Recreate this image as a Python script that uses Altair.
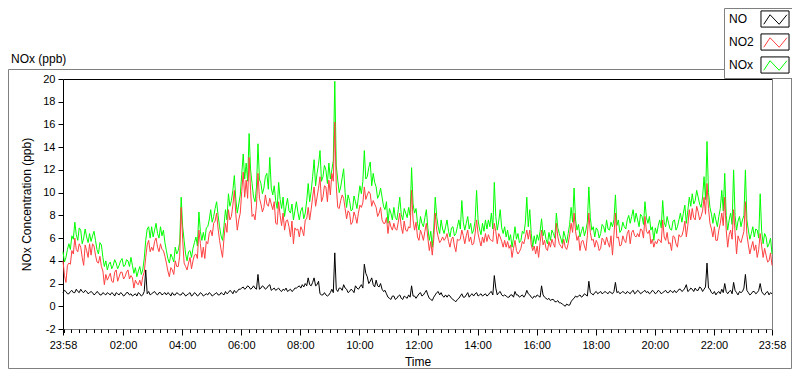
import altair as alt
import pandas as pd

FONT = "Liberation Sans"
STEP_MIN = 6  # readings every 6 minutes from 23:58, plus readings 3 minutes after each

SERIES = ["NO", "NO2", "NOx"]
COLORS = ["#000000", "#ff4040", "#00ff00"]
DRAW_ORDER = ["NOx", "NO2", "NO"]

NOX = [
    4.8, 4.3, 5.5, 6.2, 7.4, 5.8, 6.7, 6.0, 6.1, 6.4,
    6.2, 5.8, 4.6, 5.4, 3.5, 3.2, 3.9, 3.6, 3.8, 3.6,
    4.2, 3.6, 4.0, 4.3, 2.9, 2.6, 3.5, 3.2, 5.8, 7.0,
    7.0, 6.7, 6.4, 7.0, 6.7, 4.9, 3.8, 4.3, 5.2, 4.9,
    9.6, 5.8, 4.0, 4.9, 5.1, 6.1, 8.3, 5.8, 5.8, 7.0,
    8.5, 7.9, 9.2, 7.0, 5.8, 8.5, 9.9, 9.3, 11.5, 8.2,
    9.8, 13.4, 12.6, 15.2, 10.8, 9.2, 14.3, 10.8, 10.4, 11.7,
    13.1, 9.8, 9.3, 10.9, 8.6, 7.9, 9.5, 8.2, 7.6, 9.2,
    7.6, 8.7, 8.2, 10.8, 10.1, 12.9, 11.7, 13.7, 11.4, 12.0,
    12.6, 12.0, 19.8, 11.1, 10.5, 12.1, 8.7, 9.3, 8.5, 9.2,
    9.6, 9.9, 13.7, 11.4, 12.7, 11.7, 10.5, 9.8, 9.6, 8.5,
    7.3, 8.2, 8.7, 7.6, 9.6, 7.6, 8.2, 8.7, 12.2, 8.2,
    7.3, 7.9, 7.0, 8.5, 5.8, 5.2, 9.6, 7.0, 7.6, 6.4,
    7.6, 6.1, 7.0, 6.4, 7.6, 9.3, 6.7, 7.9, 7.3, 6.7,
    10.2, 6.8, 7.3, 7.6, 7.6, 8.2, 10.9, 6.7, 8.5, 6.4,
    6.1, 5.8, 5.2, 7.0, 6.4, 5.8, 6.4, 9.6, 8.5, 5.2,
    5.5, 5.8, 7.7, 6.7, 5.5, 5.8, 6.4, 8.2, 6.4, 5.5,
    6.1, 6.4, 8.7, 10.4, 6.7, 6.1, 7.0, 6.7, 10.5, 6.7,
    6.1, 6.7, 6.4, 7.0, 7.6, 6.7, 7.0, 9.8, 7.6, 6.7,
    7.0, 7.6, 7.3, 8.5, 8.2, 7.0, 7.9, 9.2, 7.3, 6.7,
    5.8, 6.4, 7.6, 9.3, 7.0, 7.3, 6.7, 7.6, 7.0, 8.2,
    8.2, 7.3, 9.6, 9.9, 9.3, 9.6, 8.7, 11.4, 14.5, 8.7,
    7.3, 7.6, 7.9, 10.2, 11.7, 6.7, 8.2, 12.0, 6.7, 7.9,
    7.6, 12.0, 6.7, 6.4, 6.1, 6.7, 9.9, 5.5, 6.1, 5.5, 4.6,
]
NOX_MID = [
    3.9, 5.0, 5.0, 5.9, 6.3, 6.9, 5.5, 6.8, 5.6, 5.7,
    6.6, 5.0, 5.6, 4.3, 4.0, 3.7, 3.3, 4.1, 3.3, 4.0,
    3.5, 4.1, 3.5, 3.6, 3.4, 3.1, 2.8, 4.2, 6.8, 6.0,
    6.1, 7.3, 6.0, 6.2, 5.6, 4.2, 4.6, 3.9, 4.6, 5.6,
    7.0, 4.6, 4.8, 4.3, 5.6, 5.3, 6.6, 6.5, 6.9, 7.6,
    7.4, 8.6, 8.0, 6.2, 7.1, 7.6, 8.8, 10.2, 9.4, 9.0,
    11.6, 11.2, 11.0, 12.0, 9.6, 10.5, 11.2, 9.9, 11.4, 10.3,
    10.4, 10.6, 8.6, 9.4, 9.6, 8.8, 8.4, 9.0, 8.4, 8.3,
    8.4, 7.7, 9.3, 9.2, 11.4, 10.6, 12.5, 11.0, 12.4, 10.8,
    11.2, 12.8, 12.4, 10.0, 11.3, 10.0, 9.8, 8.4, 9.7, 8.6,
    10.6, 11.0, 11.2, 12.2, 10.6, 10.9, 9.5, 10.4, 8.8, 9.2,
    8.6, 7.6, 7.8, 8.5, 8.1, 8.6, 7.8, 8.0, 9.0, 8.6,
    6.7, 7.3, 7.8, 6.9, 6.6, 6.8, 7.9, 6.4, 6.8, 7.0,
    6.6, 6.9, 6.2, 7.0, 6.8, 7.4, 7.3, 6.8, 6.4, 7.5,
    7.6, 6.3, 6.6, 6.8, 7.0, 6.8, 7.9, 7.5, 6.9, 7.0,
    6.7, 6.3, 6.0, 5.9, 5.6, 6.6, 7.3, 7.0, 6.4, 6.2,
    6.3, 6.6, 6.2, 5.9, 6.5, 6.7, 6.0, 6.9, 6.0, 6.6,
    5.6, 7.2, 7.4, 7.6, 7.2, 6.6, 6.2, 7.4, 7.8, 7.0,
    6.9, 6.0, 7.2, 6.5, 6.8, 7.4, 7.6, 7.1, 6.5, 7.4,
    6.8, 8.0, 7.9, 7.4, 7.6, 8.1, 7.2, 7.8, 7.9, 7.0,
    6.9, 7.1, 6.9, 7.4, 7.9, 6.8, 7.5, 6.7, 7.6, 7.4,
    8.9, 8.4, 8.8, 9.0, 10.2, 9.0, 9.6, 9.4, 10.0, 8.1,
    8.2, 7.0, 8.6, 8.4, 8.0, 7.6, 7.2, 8.0, 7.5, 7.0,
    8.0, 7.6, 5.9, 7.0, 6.8, 6.0, 6.6, 6.4, 5.2, 6.0,
]

NO2 = [
    4.0, 2.1, 3.8, 4.9, 6.0, 4.8, 5.2, 3.6, 4.9, 5.5,
    5.5, 4.5, 3.8, 3.5, 1.9, 2.3, 2.9, 2.1, 3.2, 2.6,
    3.0, 2.6, 3.2, 2.7, 1.6, 2.0, 2.3, 2.6, 4.3, 5.8,
    5.2, 5.7, 5.2, 5.5, 4.9, 3.8, 2.6, 3.2, 4.0, 3.5,
    8.7, 3.8, 3.2, 4.3, 4.0, 4.6, 6.7, 4.3, 4.2, 5.5,
    6.7, 7.3, 8.2, 5.8, 4.3, 7.3, 8.5, 7.9, 10.2, 6.7,
    8.2, 11.8, 11.1, 13.1, 7.9, 7.6, 11.7, 9.0, 8.7, 9.0,
    9.5, 8.5, 7.3, 9.2, 7.1, 6.7, 7.6, 6.1, 5.5, 6.7,
    6.1, 6.7, 7.6, 8.7, 8.5, 10.5, 9.6, 11.4, 9.6, 10.5,
    11.1, 11.7, 16.2, 8.7, 9.3, 9.5, 7.7, 8.2, 7.4, 7.9,
    8.2, 8.7, 10.5, 9.8, 9.9, 9.3, 8.7, 8.2, 7.6, 7.3,
    6.4, 7.0, 7.3, 6.7, 8.2, 6.4, 6.7, 7.0, 10.2, 6.7,
    6.1, 6.7, 5.8, 7.3, 4.9, 4.5, 8.2, 6.1, 5.8, 5.8,
    6.4, 5.2, 6.1, 4.8, 5.8, 6.7, 5.5, 6.7, 6.1, 5.5,
    7.6, 5.8, 6.1, 6.4, 6.3, 5.8, 7.3, 5.5, 6.1, 5.2,
    5.2, 5.1, 4.3, 5.8, 4.6, 5.1, 5.5, 6.7, 6.7, 4.9,
    4.6, 4.3, 6.7, 5.8, 4.9, 5.2, 5.5, 7.3, 5.5, 5.1,
    5.2, 5.5, 7.3, 8.2, 5.8, 4.9, 5.8, 4.9, 8.2, 5.8,
    5.2, 5.5, 5.1, 5.8, 6.1, 5.2, 4.5, 8.2, 6.1, 5.4,
    5.8, 6.4, 5.5, 6.7, 6.1, 6.1, 6.7, 7.9, 6.4, 5.5,
    5.2, 5.5, 5.8, 7.6, 5.8, 5.5, 4.9, 6.1, 5.2, 6.1,
    6.7, 6.1, 8.5, 8.6, 7.6, 8.3, 7.9, 9.6, 10.8, 7.3,
    6.1, 5.8, 6.7, 8.2, 9.6, 5.2, 6.7, 8.5, 4.6, 5.8,
    6.1, 9.2, 5.4, 5.2, 4.9, 4.3, 6.4, 4.3, 4.5, 4.0, 3.6,
]
NO2_MID = [
    2.7, 3.6, 3.7, 4.6, 5.0, 5.5, 4.3, 5.4, 4.3, 4.5,
    5.3, 3.9, 4.4, 3.1, 2.8, 2.6, 2.2, 3.0, 2.2, 3.0,
    2.4, 3.0, 2.4, 2.5, 2.3, 1.9, 1.8, 3.0, 5.4, 4.8,
    4.9, 6.0, 4.8, 5.0, 4.4, 3.1, 3.4, 2.8, 3.5, 4.4,
    5.9, 3.5, 3.8, 3.3, 4.5, 4.2, 5.5, 5.2, 5.7, 6.4,
    6.2, 7.5, 6.8, 5.0, 6.0, 6.5, 7.6, 8.9, 8.1, 7.6,
    10.1, 9.6, 9.5, 10.2, 8.1, 8.9, 9.5, 8.3, 9.8, 8.8,
    9.0, 9.2, 7.2, 8.0, 8.2, 7.5, 7.0, 7.5, 6.9, 6.8,
    7.0, 6.2, 7.7, 7.6, 9.6, 8.8, 10.4, 9.2, 10.6, 9.2,
    9.8, 11.0, 10.6, 8.6, 9.8, 8.6, 8.4, 7.2, 8.3, 7.3,
    8.9, 9.1, 9.4, 10.1, 8.8, 9.0, 7.9, 8.7, 7.3, 7.8,
    7.5, 6.7, 6.8, 7.4, 7.0, 7.5, 6.6, 6.9, 7.6, 7.4,
    5.8, 6.3, 6.6, 6.0, 5.7, 5.9, 6.7, 5.6, 6.1, 6.0,
    5.7, 5.9, 5.3, 5.9, 5.9, 6.2, 6.2, 5.7, 5.4, 6.4,
    6.4, 5.3, 5.6, 5.7, 5.9, 5.7, 6.6, 6.4, 5.7, 5.8,
    5.7, 5.4, 5.1, 4.9, 4.8, 5.7, 6.1, 5.9, 5.4, 5.3,
    5.3, 5.6, 5.4, 5.1, 5.7, 5.9, 5.2, 6.1, 5.3, 5.9,
    5.0, 6.3, 6.5, 6.6, 6.2, 5.7, 5.3, 6.2, 6.5, 5.9,
    5.8, 4.9, 6.0, 5.4, 5.6, 6.2, 6.3, 6.0, 5.3, 6.2,
    5.6, 6.7, 6.5, 6.2, 6.4, 6.8, 6.0, 6.6, 6.7, 5.9,
    5.7, 5.9, 5.6, 6.1, 6.5, 5.6, 6.2, 5.5, 6.3, 6.2,
    7.5, 7.1, 7.6, 7.8, 8.8, 7.6, 8.4, 8.1, 8.6, 6.8,
    7.0, 5.8, 7.3, 7.1, 6.7, 6.3, 5.9, 6.5, 6.2, 5.6,
    6.6, 6.3, 4.6, 5.7, 5.4, 5.0, 5.3, 5.1, 3.9, 4.7,
]

NO = [
    1.2, 1.3, 1.1, 1.4, 1.2, 1.3, 1.5, 1.2, 1.3, 1.2,
    1.2, 1.1, 1.2, 1.0, 1.1, 1.2, 1.0, 1.1, 1.2, 1.0,
    1.1, 1.0, 1.2, 1.1, 1.0, 0.9, 1.1, 1.0, 3.2, 1.3,
    1.1, 1.3, 1.0, 1.2, 1.1, 1.0, 1.1, 1.2, 1.0, 1.1,
    1.0, 1.1, 1.0, 1.2, 1.0, 1.1, 1.0, 1.1, 1.0, 1.0,
    1.1, 1.0, 1.2, 1.0, 1.1, 1.3, 1.2, 1.3, 1.4, 1.3,
    1.5, 1.7, 1.6, 1.7, 1.6, 1.6, 2.8, 1.6, 1.7, 1.6,
    1.9, 1.5, 1.4, 1.6, 1.3, 1.4, 1.3, 1.5, 1.4, 1.6,
    1.8, 1.9, 2.0, 2.5, 1.8, 2.5, 1.9, 1.1, 1.0, 1.0,
    1.0, 1.5, 4.7, 1.3, 1.6, 1.9, 1.5, 1.3, 1.4, 1.8,
    1.5, 1.9, 3.7, 2.6, 2.2, 1.9, 2.3, 1.7, 1.5, 1.4,
    0.8, 0.6, 0.9, 0.7, 1.0, 0.6, 0.8, 1.0, 1.8, 0.9,
    0.9, 1.2, 1.0, 1.4, 0.7, 0.5, 1.0, 1.3, 1.2, 0.8,
    0.8, 0.9, 0.6, 0.4, 0.7, 1.1, 0.8, 1.2, 1.0, 0.9,
    1.2, 1.0, 0.9, 1.1, 1.0, 1.3, 2.7, 1.0, 1.3, 0.9,
    0.9, 0.8, 1.0, 1.3, 1.0, 0.9, 0.8, 1.4, 1.0, 0.7,
    0.8, 0.9, 1.8, 0.8, 0.6, 0.5, 0.6, 0.4, 0.3, 0.2,
    0.0, 0.1, 0.4, 0.7, 0.8, 1.0, 0.9, 1.0, 2.2, 1.1,
    1.2, 1.1, 1.3, 1.2, 1.2, 1.3, 1.1, 2.1, 1.3, 1.2,
    1.2, 1.3, 1.1, 1.4, 1.2, 1.3, 1.2, 1.4, 1.3, 1.2,
    1.3, 1.2, 1.3, 1.2, 1.4, 1.2, 1.3, 1.4, 1.3, 1.5,
    1.4, 1.9, 1.4, 1.5, 1.6, 1.4, 1.6, 1.5, 3.8, 1.5,
    1.1, 1.0, 1.3, 1.5, 2.0, 1.1, 1.4, 2.1, 1.2, 1.3,
    1.3, 2.8, 1.2, 1.1, 1.3, 1.2, 2.0, 1.1, 1.2, 1.0, 1.1,
]
NO_MID = [
    1.4, 1.1, 1.3, 1.2, 1.5, 1.2, 1.3, 1.4, 1.1, 1.3,
    1.0, 1.3, 1.0, 1.2, 1.0, 1.1, 1.2, 0.9, 1.1, 1.2,
    0.9, 1.2, 1.0, 0.9, 1.1, 1.2, 0.9, 1.3, 1.1, 1.0,
    1.2, 1.1, 1.2, 1.0, 1.2, 1.2, 0.9, 1.0, 1.2, 1.0,
    1.2, 0.9, 1.1, 0.9, 1.2, 0.9, 1.2, 0.9, 1.1, 1.2,
    0.9, 1.1, 1.0, 1.2, 1.0, 1.1, 1.4, 1.1, 1.2, 1.5,
    1.6, 1.5, 1.8, 1.5, 1.8, 1.5, 1.5, 1.8, 1.5, 1.8,
    1.4, 1.6, 1.5, 1.4, 1.5, 1.6, 1.4, 1.3, 1.6, 1.7,
    1.6, 1.7, 1.8, 1.9, 2.1, 1.8, 2.2, 1.0, 1.2, 0.9,
    1.2, 1.2, 1.5, 1.6, 1.4, 1.6, 1.2, 1.5, 1.2, 1.6,
    1.7, 1.6, 2.9, 2.0, 2.5, 1.7, 1.8, 2.0, 1.3, 1.1,
    0.7, 0.9, 0.6, 0.9, 0.7, 0.9, 0.7, 0.8, 0.9, 0.7,
    1.1, 0.9, 1.2, 1.0, 0.6, 0.8, 1.2, 1.0, 0.9, 1.0,
    1.0, 0.7, 0.5, 0.6, 0.9, 0.8, 1.0, 0.8, 1.1, 1.1,
    0.9, 1.1, 1.0, 0.9, 1.2, 1.0, 1.6, 1.2, 1.0, 1.0,
    0.8, 1.0, 0.8, 1.0, 0.8, 1.0, 1.0, 1.1, 0.8, 0.9,
    1.0, 0.8, 1.0, 0.7, 0.7, 0.6, 0.4, 0.5, 0.3, 0.1,
    0.2, 0.1, 0.6, 0.9, 0.9, 0.8, 1.1, 0.9, 1.2, 1.0,
    1.3, 1.2, 1.1, 1.3, 1.1, 1.2, 1.3, 1.2, 1.1, 1.3,
    1.1, 1.2, 1.3, 1.1, 1.4, 1.1, 1.3, 1.2, 1.1, 1.4,
    1.1, 1.4, 1.1, 1.3, 1.2, 1.4, 1.2, 1.2, 1.5, 1.3,
    1.6, 1.3, 1.6, 1.3, 1.4, 1.7, 1.3, 1.7, 1.6, 1.2,
    1.3, 1.2, 1.1, 1.2, 1.3, 1.3, 1.1, 1.4, 1.0, 1.2,
    1.6, 1.4, 1.0, 1.3, 1.1, 1.4, 1.3, 1.0, 1.3, 1.2,
]

Y_TICKS = [-2, 0, 2, 4, 6, 8, 10, 12, 14, 16, 18, 20]
# minutes after 23:58: start, every even hour, end
X_MAJOR = [0, 122, 242, 362, 482, 602, 722, 842, 962, 1082, 1202, 1322, 1440]
X_MINOR = [2 + 15 * k for k in range(96)]

values = {"NO": (NO, NO_MID), "NO2": (NO2, NO2_MID), "NOx": (NOX, NOX_MID)}
rows = []
for s in DRAW_ORDER:
    main, mid = values[s]
    for i, v in enumerate(main):
        rows.append({"m": i * STEP_MIN, "v": v, "series": s})
    for i, v in enumerate(mid):
        rows.append({"m": i * STEP_MIN + STEP_MIN // 2, "v": v, "series": s})
df = pd.DataFrame(rows)

CLOCK = "((datum.value + 1438) % 1440)"
TIME_LABEL = (
    f"pad(toString(floor({CLOCK} / 60)), 2, '0', 'left') + ':' + "
    f"pad(toString({CLOCK} % 60), 2, '0', 'left')"
)

XS = alt.Scale(domain=[0, 1440], nice=False, zero=False)
YS = alt.Scale(domain=[-2, 20], nice=False, zero=False)

# legend swatches: a 28x16 px box holding a small zig-zag line
# (the zig-zag path starts with two bare moves so its bounds equal the box's)
ZIGZAG = "M-1.65,-0.95M1.65,0.95M-1.32,0.62L-0.58,-0.5L0.49,0.62L1.4,-0.5"
BOX = "M-1.65,-0.95L1.65,-0.95L1.65,0.95L-1.65,0.95Z"
BOX_DOMAIN = ["b" + s for s in SERIES]

legend_common = dict(
    title=None, orient="none", legendX=661, legendY=-71,
    symbolSize=289, symbolStrokeWidth=1, symbolFillColor="transparent",
    labelFontSize=12, labelFont=FONT, labelColor="black",
    labelOffset={"expr": "-55"}, symbolOffset=40, padding=2, rowPadding=1,
)

lines = alt.Chart(df).mark_line(strokeWidth=1).encode(
    x=alt.X("m:Q", scale=XS, axis=alt.Axis(
        orient="bottom", values=X_MAJOR, labelExpr=TIME_LABEL, title="Time",
        grid=False, tickSize=6, tickColor="black", domainColor="#808080",
        labelFontSize=11, labelColor="black", labelPadding=4,
        labelFlush=False, labelOverlap=False,
        titleFontSize=12, titleFontWeight="normal", titleColor="black",
        titleY=32, titleBaseline="middle")),
    y=alt.Y("v:Q", scale=YS, axis=alt.Axis(
        orient="left", values=Y_TICKS, labelExpr="'' + datum.value",
        title="NOx Concentration (ppb)", grid=False,
        tickSize=5, tickColor="black", domainColor="black",
        labelFontSize=11, labelColor="black", labelPadding=3,
        titleFontSize=12, titleFontWeight="normal", titleColor="black",
        titleX=-37, titleY=125, titleAngle=270, titleAlign="center",
        titleBaseline="middle")),
    color=alt.Color("series:N", scale=alt.Scale(domain=SERIES, range=COLORS),
                    legend=alt.Legend(symbolType=ZIGZAG, strokeColor="#808080",
                                      fillColor="white", **legend_common)),
)

pts = alt.Chart(df).transform_calculate(box="'b' + datum.series").mark_point(
    opacity=0, filled=False, color="black"
).encode(
    x=alt.X("m:Q", scale=XS, axis=alt.Axis(
        orient="bottom", values=X_MINOR, labels=False, title=None, grid=False,
        domain=False, tickSize=3.5, tickColor="black")),
    y=alt.Y("v:Q", scale=YS, axis=alt.Axis(
        orient="right", labels=False, ticks=False, title=None, grid=False,
        domainColor="#808080")),
    shape=alt.Shape("box:N", scale=alt.Scale(domain=BOX_DOMAIN, range=[BOX] * 3),
                    legend=alt.Legend(symbolType=BOX, labelExpr="''", **legend_common)),
)

top = alt.Chart(df).mark_point(opacity=0).encode(
    x=alt.X("m:Q", scale=XS, axis=alt.Axis(
        orient="top", labels=False, ticks=False, title=None, grid=False,
        domainColor="black")),
    y=alt.Y("v:Q", scale=YS, axis=None),
)

frame = alt.Chart(alt.Data(values=[{}])).mark_rect(
    fill="white", fillOpacity=0, stroke="#808080", strokeWidth=1
).encode(
    x=alt.value(-54.5), x2=alt.value(728.5), y=alt.value(-9.5), y2=alt.value(289.5)
)

chart_title = alt.Chart(alt.Data(values=[{}])).mark_text(
    text="NOx (ppb)", align="left", baseline="middle", fontSize=12, font=FONT,
    color="black"
).encode(x=alt.value(-52), y=alt.value(-20))

chart = alt.layer(frame, lines, pts, top, chart_title).resolve_axis(
    x="independent", y="independent"
).properties(
    width=709, height=250,
    padding={"left": 55, "top": 71, "right": 20, "bottom": 40},
    autosize=alt.AutoSizeParams(type="none"),
    background="white",
).configure_view(stroke=None).configure_axis(
    labelFont=FONT, titleFont=FONT
).configure_legend(labelFont=FONT)

chart.save("out.html", embed_options={"renderer": "svg", "actions": False})
